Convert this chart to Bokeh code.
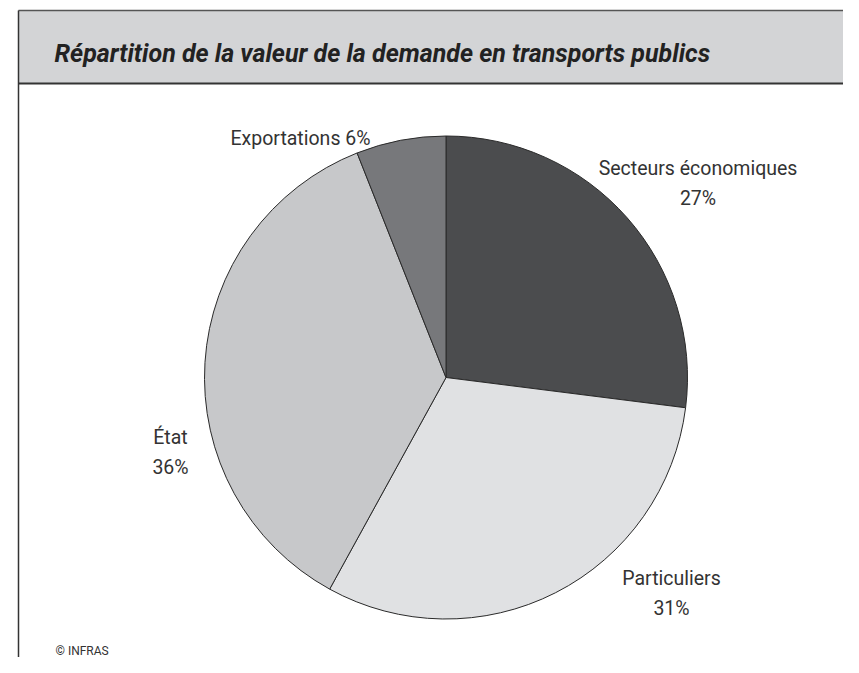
import math
from bokeh.plotting import figure
from bokeh.models import Range1d
from bokeh.core.properties import value
from bokeh.embed import file_html
from bokeh.resources import INLINE

# ---- data ----
title = "Répartition de la valeur de la demande en transports publics"
categories = ["Secteurs économiques", "Particuliers", "État", "Exportations"]
shares = [27, 31, 36, 6]
source_note = "© INFRAS"

# ---- styling ----
slice_colors = ["#4b4c4e", "#e0e1e3", "#c7c8ca", "#77787b"]
FONT = "Roboto"
W, H = 843, 657

def X(xs):
    return xs

def Y(ys):
    return H - ys

p = figure(width=W, height=H, x_range=Range1d(0, W), y_range=Range1d(0, H),
           x_axis_type=None, y_axis_type=None, toolbar_location=None,
           output_backend="svg", min_border=0)
p.outline_line_color = None
p.grid.visible = False
p.background_fill_color = "white"
p.border_fill_color = "white"

# frame / title bar
p.quad(left=[X(18)], right=[W], top=[Y(10)], bottom=[Y(83)],
       fill_color="#d3d4d6", line_color=None)
p.segment(x0=[X(18)], y0=[Y(10)], x1=[W], y1=[Y(10)], line_color="#555555", line_width=1.5)
p.segment(x0=[X(18)], y0=[Y(83)], x1=[W], y1=[Y(83)], line_color="#333333", line_width=2)
p.segment(x0=[X(18)], y0=[Y(10)], x1=[X(18)], y1=[0], line_color="#333333", line_width=1.5)

p.text(x=[X(54)], y=[Y(53)], text=[title], text_font=value(FONT),
       text_font_size="25px", text_font_style="bold italic", text_color="#222222",
       text_align="left", text_baseline="alphabetic")

# pie
cx, cy, r = X(445.5), Y(377), 241.5
total = sum(shares)
starts, ends = [], []
acc = 0
for s in shares:
    starts.append(math.pi / 2 - 2 * math.pi * acc / total)
    acc += s
    ends.append(math.pi / 2 - 2 * math.pi * acc / total)

p.wedge(x=[cx] * len(shares), y=[cy] * len(shares), radius=r,
        start_angle=starts, end_angle=ends, direction="clock",
        fill_color=slice_colors, line_color="#2a2a2a", line_width=1)

# labels (layout positions in screen px: center x, baseline of first line)
label_pos = [(697.5, 168), (671, 578), (170, 437), (300, 138)]
two_line = [True, True, True, False]
for cat, s, (lx, ly), tl in zip(categories, shares, label_pos, two_line):
    if tl:
        p.text(x=[X(lx), X(lx)], y=[Y(ly), Y(ly + 30)], text=[cat, f"{s}%"],
               text_font=value(FONT), text_font_size="19.5px", text_color="#333333",
               text_align="center", text_baseline="alphabetic")
    else:
        p.text(x=[X(lx)], y=[Y(ly)], text=[f"{cat} {s}%"],
               text_font=value(FONT), text_font_size="19.5px", text_color="#333333",
               text_align="center", text_baseline="alphabetic")

p.text(x=[X(55)], y=[Y(650)], text=[source_note], text_font=value(FONT),
       text_font_size="12px", text_color="#333333", text_align="left",
       text_baseline="alphabetic")

open("out.html", "w").write(file_html(p, INLINE))
